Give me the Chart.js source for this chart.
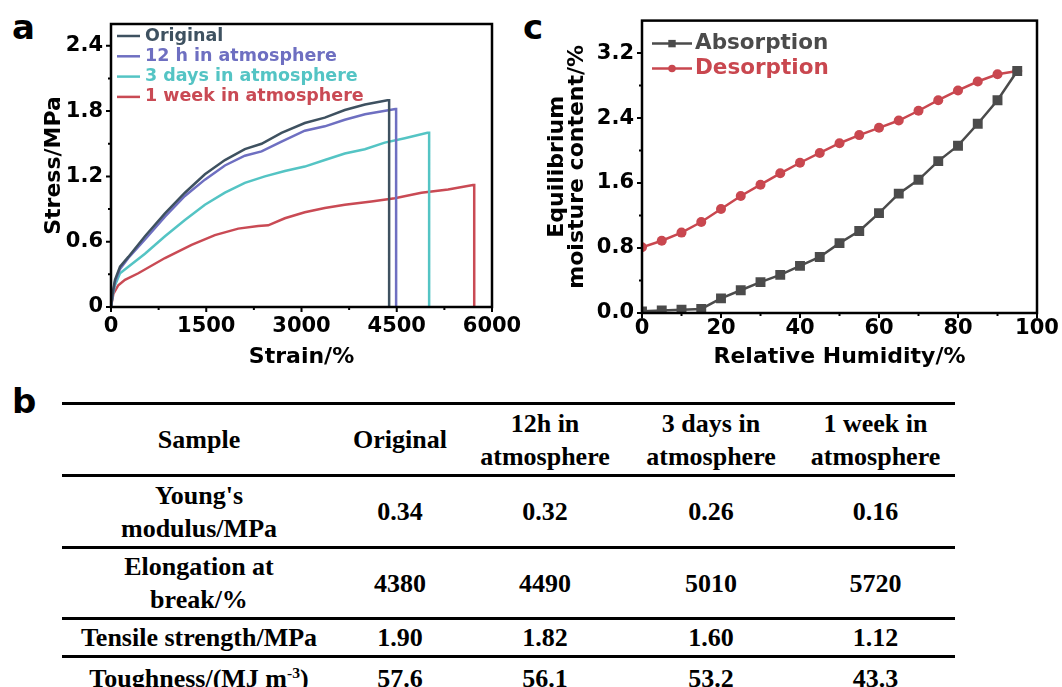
<!DOCTYPE html>
<html>
<head>
<meta charset="utf-8">
<script src="https://cdn.jsdelivr.net/npm/chart.js@4.4.1/dist/chart.umd.min.js"></script>
<style>
  html, body { margin: 0; padding: 0; background: #fff; }
  body { width: 1062px; height: 687px; position: relative; overflow: hidden; }
  canvas { position: absolute; top: 0; }
  #chartA { left: 0; }
  #chartC { left: 520px; }
  .letter {
    position: absolute;
    font-family: "DejaVu Sans", sans-serif;
    font-weight: bold;
    font-size: 34px;
    line-height: 34px;
    color: #000;
  }
  #tableB {
    position: absolute;
    left: 62px;
    top: 402px;
    width: 893px;
    border-top: 3px solid #000;
    font-family: "Liberation Serif", "Times New Roman", serif;
    font-weight: bold;
    font-size: 26px;
    line-height: 33px;
    color: #000;
  }
  .row {
    display: grid;
    grid-template-columns: 274px 128px 162px 170px 159px;
    align-items: center;
    text-align: center;
    border-bottom: 3px solid #000;
    box-sizing: border-box;
    white-space: pre-line;
  }
  .row:nth-child(1) { height: 72px; }
  .row:nth-child(2) { height: 72px; }
  .row:nth-child(3) { height: 71px; }
  .row:nth-child(4) { height: 38px; }
  .row:nth-child(5) { height: 40px; border-bottom: none; }
  sup { font-size: 0.6em; line-height: 0; vertical-align: 0.6em; }
</style>
</head>
<body>
<div class="letter" style="left:12px; top:10px;">a</div>
<div class="letter" style="left:523px; top:10px;">c</div>
<div class="letter" style="left:12px; top:384px;">b</div>

<canvas id="chartA" width="540" height="375"></canvas>
<canvas id="chartC" width="542" height="375"></canvas>

<div id="tableB"></div>

<script>
// ---- panel a: stress-strain curves ----
const seriesNamesA = ["Original", "12 h in atmosphere", "3 days in atmosphere", "1 week in atmosphere"];

const strainOriginal = [0, 30, 63, 142, 273, 535, 850, 1164, 1479, 1794, 2108, 2371, 2685, 3052, 3367, 3682, 4000, 4353, 4380, 4380];
const stressOriginal = [0, 0.14, 0.25, 0.37, 0.46, 0.65, 0.86, 1.05, 1.22, 1.35, 1.45, 1.50, 1.60, 1.69, 1.74, 1.81, 1.86, 1.90, 1.90, 0];

const strain12h = [0, 30, 63, 142, 273, 535, 850, 1164, 1479, 1794, 2108, 2371, 2685, 3052, 3367, 3682, 4000, 4479, 4490, 4490];
const stress12h = [0, 0.13, 0.23, 0.35, 0.45, 0.62, 0.83, 1.02, 1.17, 1.30, 1.39, 1.43, 1.52, 1.62, 1.66, 1.72, 1.77, 1.82, 1.82, 0];

const strain3d = [0, 30, 63, 142, 273, 535, 850, 1164, 1479, 1794, 2108, 2423, 2738, 3052, 3367, 3682, 3997, 4311, 4626, 4983, 5010, 5010];
const stress3d = [0, 0.12, 0.20, 0.31, 0.37, 0.49, 0.65, 0.80, 0.94, 1.05, 1.14, 1.20, 1.25, 1.29, 1.35, 1.41, 1.45, 1.51, 1.55, 1.60, 1.60, 0];

const strain1w = [0, 37, 115, 220, 430, 850, 1269, 1636, 2004, 2318, 2476, 2738, 3052, 3367, 3682, 4101, 4469, 4888, 5308, 5701, 5720, 5720];
const stress1w = [0, 0.12, 0.20, 0.25, 0.31, 0.45, 0.57, 0.66, 0.72, 0.745, 0.75, 0.815, 0.87, 0.91, 0.94, 0.97, 1.00, 1.05, 1.08, 1.12, 1.12, 0];

const strainTicks = [0, 1500, 3000, 4500, 6000];
const stressTicks = [0, 0.6, 1.2, 1.8, 2.4];

// ---- panel c: sorption isotherms ----
const seriesNamesC = ["Absorption", "Desorption"];
const humidity = [0, 5, 10, 15, 20, 25, 30, 35, 40, 45, 50, 55, 60, 65, 70, 75, 80, 85, 90, 95];
const absorption = [0.02, 0.03, 0.04, 0.05, 0.18, 0.28, 0.38, 0.47, 0.58, 0.69, 0.86, 1.01, 1.23, 1.47, 1.64, 1.87, 2.06, 2.33, 2.62, 2.98];
const desorption = [0.81, 0.89, 0.99, 1.12, 1.28, 1.44, 1.58, 1.72, 1.85, 1.97, 2.09, 2.19, 2.28, 2.37, 2.49, 2.62, 2.74, 2.85, 2.94, 2.98];

const humidityTicks = [0, 20, 40, 60, 80, 100];
const moistureTicks = [0, 0.8, 1.6, 2.4, 3.2];

// ---- panel b: table ----
const sampleHeaders = ["Sample", "Original", "12h in\natmosphere", "3 days in\natmosphere", "1 week in\natmosphere"];
const propertyNames = ["Young's\nmodulus/MPa", "Elongation at\nbreak/%", "Tensile strength/MPa", "Toughness/(MJ m<sup>-3</sup>)"];
const youngsModulus = [0.34, 0.32, 0.26, 0.16];
const elongationAtBreak = [4380, 4490, 5010, 5720];
const tensileStrength = [1.90, 1.82, 1.60, 1.12];
const toughness = [57.6, 56.1, 53.2, 43.3];

const COLORS_A = ["#3e5160", "#6e6fc1", "#54c4c4", "#c94a54"];
const COLOR_ABS = "#4b4b4b";
const COLOR_DES = "#c9474f";

Chart.defaults.font.family = '"DejaVu Sans", sans-serif';
Chart.defaults.font.weight = "bold";
Chart.defaults.color = "#000";

function toPoints(xs, ys) {
  return xs.map((x, i) => ({ x: x, y: ys[i] }));
}

// box frame plus outward major and minor tick marks
const frameTicks = {
  id: "frameTicks",
  afterDraw(chart) {
    const { ctx, chartArea: a } = chart;
    const xs = chart.scales.x;
    const ys = chart.scales.y;
    ctx.save();
    ctx.strokeStyle = "#000";
    ctx.lineWidth = 2;

    const minors = (scale) => {
      const vals = scale.ticks.map(t => t.value);
      const out = [];
      for (let i = 0; i < vals.length; i++) {
        const step = i < vals.length - 1 ? vals[i + 1] - vals[i] : vals[i] - vals[i - 1];
        const m = vals[i] + step / 2;
        if (m > scale.min && m < scale.max) out.push(m);
      }
      return out;
    };

    ctx.beginPath();
    xs.ticks.forEach(t => {
      const px = xs.getPixelForValue(t.value);
      ctx.moveTo(px, a.bottom); ctx.lineTo(px, a.bottom + 5);
    });
    minors(xs).forEach(v => {
      const px = xs.getPixelForValue(v);
      ctx.moveTo(px, a.bottom); ctx.lineTo(px, a.bottom + 3);
    });
    ys.ticks.forEach(t => {
      const py = ys.getPixelForValue(t.value);
      ctx.moveTo(a.left, py); ctx.lineTo(a.left - 5, py);
    });
    minors(ys).forEach(v => {
      const py = ys.getPixelForValue(v);
      ctx.moveTo(a.left, py); ctx.lineTo(a.left - 3, py);
    });
    ctx.stroke();

    ctx.lineWidth = 2.5;
    ctx.strokeRect(a.left, a.top, a.right - a.left, a.bottom - a.top);
    ctx.restore();
  }
};

// legend drawn inside the plot, text coloured like its series
const inlineLegend = {
  id: "inlineLegend",
  afterDraw(chart, args, opts) {
    const { ctx, chartArea: a } = chart;
    ctx.save();
    ctx.font = `bold ${opts.fontSize}px "DejaVu Sans", sans-serif`;
    ctx.textBaseline = "middle";
    ctx.textAlign = "left";
    chart.data.datasets.forEach((ds, i) => {
      const y = a.top + opts.top + i * opts.rowGap;
      const x0 = a.left + opts.left;
      ctx.strokeStyle = ds.borderColor;
      ctx.lineWidth = ds.borderWidth;
      ctx.beginPath();
      ctx.moveTo(x0, y);
      ctx.lineTo(x0 + opts.lineLen, y);
      ctx.stroke();
      if (ds.pointRadius) {
        ctx.fillStyle = ds.borderColor;
        Chart.helpers.drawPoint(ctx, {
          pointStyle: ds.pointStyle,
          radius: ds.pointRadius * 0.75,
          borderWidth: 0,
          rotation: 0
        }, x0 + opts.lineLen / 2, y);
      }
      ctx.fillStyle = ds.borderColor;
      ctx.fillText(ds.label, x0 + opts.lineLen + opts.gap, y);
    });
    ctx.restore();
  }
};

function axisFont(size) {
  return { size: size, weight: "bold", family: '"DejaVu Sans", sans-serif' };
}

function lineSet(label, xs, ys, color) {
  return {
    label: label,
    data: toPoints(xs, ys),
    borderColor: color,
    backgroundColor: color,
    borderWidth: 2.5,
    pointRadius: 0,
    tension: 0
  };
}

new Chart(document.getElementById("chartA"), {
  type: "line",
  data: {
    datasets: [
      lineSet(seriesNamesA[0], strainOriginal, stressOriginal, COLORS_A[0]),
      lineSet(seriesNamesA[1], strain12h, stress12h, COLORS_A[1]),
      lineSet(seriesNamesA[2], strain3d, stress3d, COLORS_A[2]),
      lineSet(seriesNamesA[3], strain1w, stress1w, COLORS_A[3])
    ]
  },
  plugins: [frameTicks, inlineLegend],
  options: {
    responsive: false,
    animation: false,
    layout: { padding: { left: 41, top: 24, right: 48, bottom: 5 } },
    plugins: {
      legend: { display: false },
      tooltip: { enabled: false },
      inlineLegend: { left: 6, top: 12, rowGap: 20.3, lineLen: 23, gap: 5, fontSize: 17.5 }
    },
    scales: {
      x: {
        type: "linear",
        min: 0,
        max: 6000,
        grid: { display: false, drawTicks: false },
        border: { display: false },
        afterBuildTicks: s => { s.ticks = strainTicks.map(v => ({ value: v })); },
        afterFit: s => { s.height = 63; },
        ticks: { padding: 7, font: axisFont(21), color: "#000", maxRotation: 0, autoSkip: false, callback: v => String(v) },
        title: { display: true, text: "Strain/%", font: axisFont(22), color: "#000", padding: 0 }
      },
      y: {
        type: "linear",
        min: 0,
        max: 2.6,
        grid: { display: false, drawTicks: false },
        border: { display: false },
        afterBuildTicks: s => { s.ticks = stressTicks.map(v => ({ value: v })); },
        afterFit: s => { s.width = 70; },
        ticks: { padding: 8, font: axisFont(21), color: "#000", autoSkip: false, callback: v => v === 0 ? "0" : v.toFixed(1) },
        title: { display: true, text: "Stress/MPa", font: axisFont(22), color: "#000", padding: 0 }
      }
    }
  }
});

new Chart(document.getElementById("chartC"), {
  type: "line",
  data: {
    datasets: [
      {
        label: seriesNamesC[0],
        data: toPoints(humidity, absorption),
        borderColor: COLOR_ABS,
        backgroundColor: COLOR_ABS,
        pointBackgroundColor: COLOR_ABS,
        pointBorderColor: COLOR_ABS,
        borderWidth: 2.5,
        pointStyle: "rect",
        pointRadius: 7,
        pointBorderWidth: 0,
        tension: 0
      },
      {
        label: seriesNamesC[1],
        data: toPoints(humidity, desorption),
        borderColor: COLOR_DES,
        backgroundColor: COLOR_DES,
        pointBackgroundColor: COLOR_DES,
        pointBorderColor: COLOR_DES,
        borderWidth: 2.5,
        pointStyle: "circle",
        pointRadius: 5,
        pointBorderWidth: 0,
        tension: 0
      }
    ]
  },
  plugins: [frameTicks, inlineLegend],
  options: {
    responsive: false,
    animation: false,
    layout: { padding: { left: 27, top: 20, right: 25, bottom: 5 } },
    plugins: {
      legend: { display: false },
      tooltip: { enabled: false },
      inlineLegend: { left: 10, top: 23, rowGap: 25, lineLen: 40, gap: 3, fontSize: 21.5 }
    },
    scales: {
      x: {
        type: "linear",
        min: 0,
        max: 100,
        grid: { display: false, drawTicks: false },
        border: { display: false },
        afterBuildTicks: s => { s.ticks = humidityTicks.map(v => ({ value: v })); },
        afterFit: s => { s.height = 57; },
        ticks: { padding: 3, font: axisFont(21), color: "#000", maxRotation: 0, autoSkip: false, callback: v => String(v) },
        title: { display: true, text: "Relative Humidity/%", font: axisFont(22), color: "#000", padding: 0 }
      },
      y: {
        type: "linear",
        min: 0,
        max: 3.6,
        grid: { display: false, drawTicks: false },
        border: { display: false },
        afterBuildTicks: s => { s.ticks = moistureTicks.map(v => ({ value: v })); },
        afterFit: s => { s.width = 95; },
        ticks: { padding: 8, font: axisFont(21), color: "#000", autoSkip: false, callback: v => v.toFixed(1) },
        title: {
          display: true,
          text: ["Equilibrium", "moisture content/%"],
          font: { size: 22, weight: "bold", family: '"DejaVu Sans", sans-serif', lineHeight: "20px" },
          color: "#000",
          padding: 0
        }
      }
    }
  }
});

// table b built from the arrays above
function buildTable() {
  const host = document.getElementById("tableB");
  const rows = [
    sampleHeaders,
    [propertyNames[0]].concat(youngsModulus.map(v => v.toFixed(2))),
    [propertyNames[1]].concat(elongationAtBreak.map(v => String(v))),
    [propertyNames[2]].concat(tensileStrength.map(v => v.toFixed(2))),
    [propertyNames[3]].concat(toughness.map(v => v.toFixed(1)))
  ];
  rows.forEach(cells => {
    const row = document.createElement("div");
    row.className = "row";
    cells.forEach(text => {
      const cell = document.createElement("div");
      cell.innerHTML = text;
      row.appendChild(cell);
    });
    host.appendChild(row);
  });
}
buildTable();
</script>
</body>
</html>
